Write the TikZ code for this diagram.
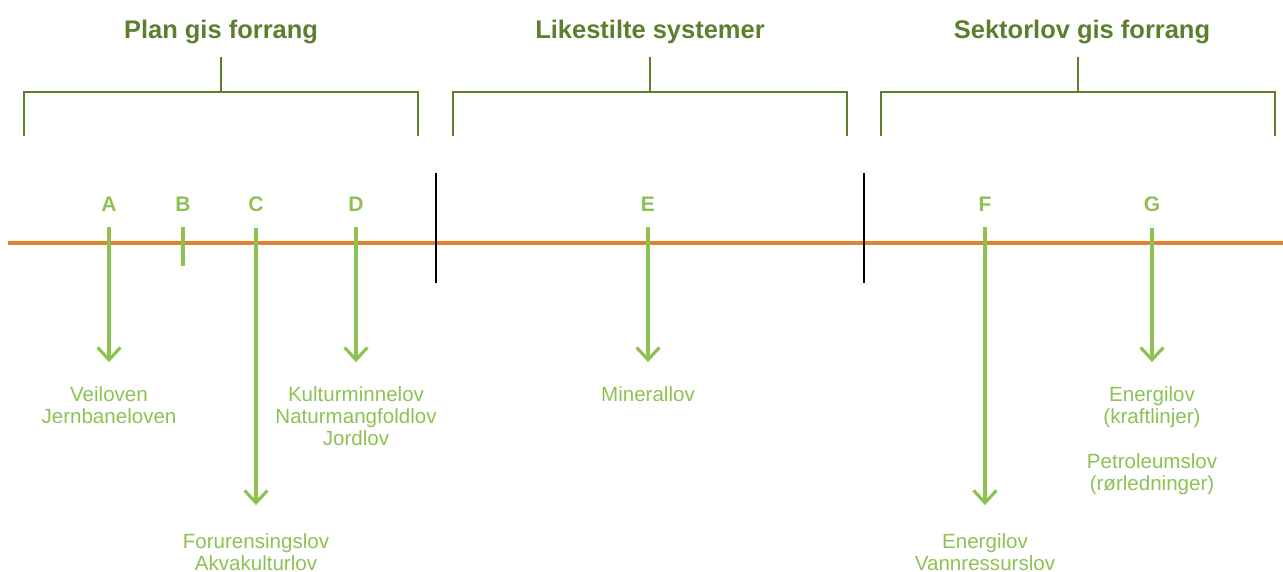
\documentclass[tikz,border=0pt]{standalone}
\usepackage{fontspec}
\setmainfont{Liberation Sans}
\usetikzlibrary{arrows.meta}
\definecolor{moss}{HTML}{5B7F2F}
\definecolor{leaf}{HTML}{8DC153}
\definecolor{amber}{HTML}{E4822B}
\begin{document}
\begin{tikzpicture}[x=0.02cm, y=-0.02cm, line cap=butt,
	title/.style={font=\fontsize{14.5}{16}\selectfont\bfseries, text=moss, inner sep=0pt, anchor=base},
	brace/.style={draw=moss, line width=0.85pt},
	letter/.style={font=\fontsize{12}{14}\selectfont\bfseries, text=leaf, inner sep=0pt, anchor=base},
	law/.style={font=\fontsize{11.7}{12.5}\selectfont, text=leaf, align=center, anchor=north, inner sep=0pt},
	stem/.style={draw=leaf, line width=1.8pt, shorten <=9.1pt},
	pil/.style={stem, -{Straight Barb[length=7pt,width=13pt]}}]
	\def\ytl{243} \def\hw{197} % tidslinje, halv bredde
	\useasboundingbox (0,0) rectangle (1283,571);
	% overskrifter med klammer
	\foreach \x/\xt/\t/\n in {221/221/Plan gis forrang/pl, 650/650/Likestilte systemer/li, 1078/1082/Sektorlov gis forrang/se}{
		\node[title] (\n) at (\xt,39) {\t};
		\draw[brace] (\x-\hw,136) |- (\x+\hw,92) -- ++(0,44);
		\draw[brace] (\x,92) -- (\x,57);
	}
	\draw[amber, line width=2.1pt] (8,\ytl) -- (1283,\ytl);
	\draw[black, line width=0.85pt] (436,173) -- (436,283) (864,173) -- (864,283);
	% bokstaver
	\foreach \x/\n in {109/A, 183/B, 256/C, 356/D, 648/E, 985/F, 1152/G}
		\node[letter] (\n) at (\x,211) {\n};
	% lover
	\node[law] (lA) at (109,386) {Veiloven\\Jernbaneloven};
	\node[law] (lC) at (256,533) {Forurensingslov\\Akvakulturlov};
	\node[law] (lD) at (356,386) {Kulturminnelov\\Naturmangfoldlov\\Jordlov};
	\node[law] (lE) at (648,386) {Minerallov};
	\node[law] (lF) at (985,533) {Energilov\\Vannressurslov};
	\node[law] (lG) at (1152,386) {Energilov\\(kraftlinjer)};
	\node[law] (lG2) at (1152,453) {Petroleumslov\\(rørledninger)};
	\draw[stem] (B.south) -- ++(0,55);
	\foreach \n in {A, D, E, G}
		\draw[pil, shorten >=13.6pt] (\n.south) -- (\n.south |- l\n.north);
	\foreach \n in {C, F}
		\draw[pil, shorten >=15.9pt] (\n.south) -- (\n.south |- l\n.north);
\end{tikzpicture}
\end{document}
